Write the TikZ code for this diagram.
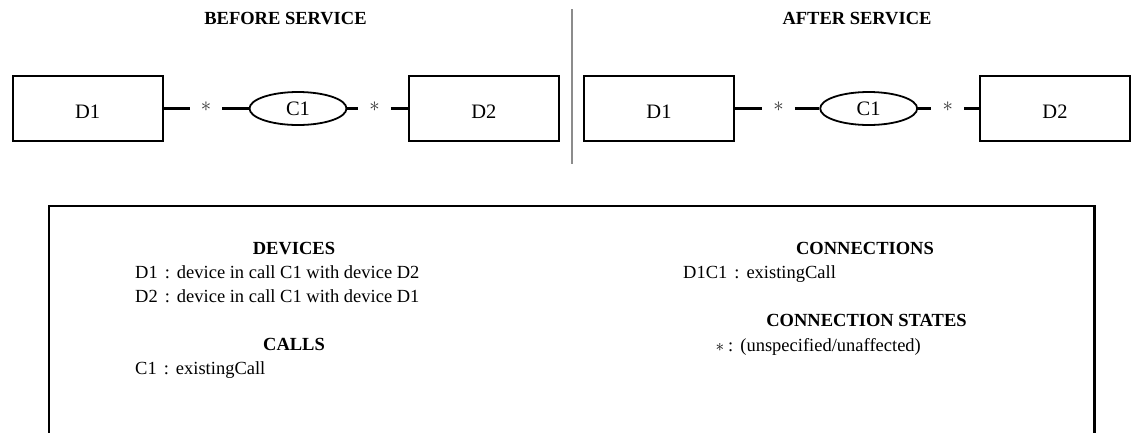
\documentclass[tikz,border=0pt]{standalone}
\usepackage{fontspec}
\setmainfont{Liberation Serif}
\usetikzlibrary{shapes.geometric}
\begin{document}
\begin{tikzpicture}[x=1pt,y=-1pt,
  devbox/.style={draw,line width=2.1pt,minimum width=150pt,minimum height=65pt,inner sep=0pt,
    font=\fontsize{20.5}{22}\selectfont,text height=19.6pt,text depth=0pt},
  callell/.style={draw,ellipse,line width=1.8pt,minimum width=97pt,minimum height=33pt,inner sep=0pt,
    font=\fontsize{20.5}{22}\selectfont},
  starlbl/.style={inner sep=0pt,minimum width=32.5pt,text height=5pt,text depth=0pt,text=black!80,
    font=\fontsize{20}{22}\selectfont},
  conn/.style={line width=2.1pt},
  title/.style={font=\fontsize{18.5}{20}\selectfont\bfseries,anchor=base},
  head/.style={font=\fontsize{18.5}{20}\selectfont\bfseries,anchor=base},
  entry/.style={font=\fontsize{18.5}{20}\selectfont,anchor=base west,inner sep=0pt},
  sepline/.style={draw=black!45,line width=1.8pt},
  frame/.style={line width=2.3pt}
]
\useasboundingbox (0,0) rectangle (1135,432);

% titles
\node[title] (tb) at (285.5,24.3) {BEFORE SERVICE};
\node[title] (ta) at (857,24.3) {AFTER SERVICE};

% separator
\coordinate (septop) at (572.3,9);
\coordinate (sepbot) at (572.3,164);
\draw[sepline] (septop) -- (sepbot);

% before service
\node[devbox] (D1a) at (87.7,108.5) {D1};
\node[starlbl] (s1a) at (206,108.5) {$\ast$};
\node[callell] (C1a) at (298,108.5) {C1};
\node[starlbl] (s2a) at (374.5,108.5) {$\ast$};
\node[devbox] (D2a) at (483.8,108.5) {D2};
\draw[conn] (D1a.east) -- (s1a.west);
\draw[conn] (s1a.east) -- (C1a.west);
\draw[conn] (C1a.east) -- (s2a.west);
\draw[conn] (s2a.east) -- (D2a.west);

% after service
\node[devbox] (D1b) at (659,108.5) {D1};
\node[starlbl] (s1b) at (778.5,108.5) {$\ast$};
\node[callell] (C1b) at (868.7,108.5) {C1};
\node[starlbl] (s2b) at (947.8,108.5) {$\ast$};
\node[devbox] (D2b) at (1055,108.5) {D2};
\draw[conn] (D1b.east) -- (s1b.west);
\draw[conn] (s1b.east) -- (C1b.west);
\draw[conn] (C1b.east) -- (s2b.west);
\draw[conn] (s2b.east) -- (D2b.west);

% legend frame (bottom edge lies below the picture)
\coordinate (fbl) at (48.8,440);
\coordinate (ftl) at (48.8,205.8);
\coordinate (ftr) at (1094.5,205.8);
\coordinate (fbr) at (1094.5,440);
\draw[frame] (fbl) -- (ftl) -- (ftr) -- (fbr);

% legend left
\node[head] (hdev) at (294,254) {DEVICES};
\node[entry] (eD1) at (135,278.5) {D1\hspace{7pt}:\hspace{7pt}device in call C1 with device D2};
\node[entry] (eD2) at (135,302) {D2\hspace{7pt}:\hspace{7pt}device in call C1 with device D1};
\node[head] (hcall) at (294,350) {CALLS};
\node[entry] (eC1) at (135,374) {C1\hspace{7pt}:\hspace{7pt}existingCall};

% legend right
\node[head] (hconn) at (865,254) {CONNECTIONS};
\node[entry] (eD1C1) at (683,278.5) {D1C1\hspace{7pt}:\hspace{7pt}existingCall};
\node[head] (hstate) at (866.5,326.5) {CONNECTION STATES};
\node[entry] (estar) at (715.4,351) {$\ast$\hspace{4pt}:\hspace{7pt}(unspecified/unaffected)};
\end{tikzpicture}
\end{document}
